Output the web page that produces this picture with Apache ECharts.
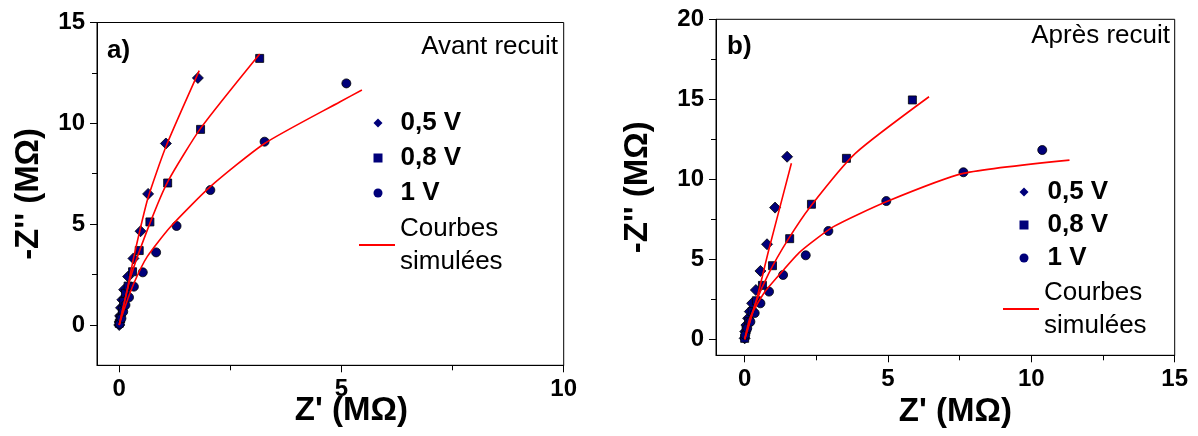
<!DOCTYPE html>
<html>
<head>
<meta charset="utf-8">
<script src="https://cdn.jsdelivr.net/npm/echarts@6/dist/echarts.min.js"></script>
<style>
html,body{margin:0;padding:0;background:#fff;}
#chart{width:1198px;height:436px;}
</style>
</head>
<body>
<div id="chart"></div>
<script>
// ---- Panel a) Avant recuit ----
const a05X = [0, 0.01, 0.02, 0.04, 0.07, 0.11, 0.2, 0.32, 0.48, 0.65, 1.05, 1.77];
const a05Y = [0, 0.15, 0.45, 0.85, 1.25, 1.75, 2.4, 3.3, 4.65, 6.5, 9.0, 12.25];
const a08X = [0, 0.02, 0.07, 0.1, 0.14, 0.2, 0.3, 0.45, 0.69, 1.09, 1.83, 3.16];
const a08Y = [0.08, 0.33, 0.74, 1.16, 1.57, 1.93, 2.64, 3.69, 5.11, 7.04, 9.7, 13.22];
const a1X = [0.01, 0.05, 0.09, 0.14, 0.22, 0.33, 0.53, 0.83, 1.29, 2.05, 3.27, 5.11];
const a1Y = [0.05, 0.33, 0.66, 0.99, 1.37, 1.9, 2.61, 3.6, 4.91, 6.69, 9.09, 11.98];
const aFit05X = [0, 0.18, 0.33, 0.645, 1.05, 1.8];
const aFit05Y = [0, 1.74, 3.39, 6.28, 8.84, 12.61];
const aFit08X = [0, 0.26, 0.69, 1.09, 1.83, 3.16];
const aFit08Y = [0, 2.4, 5.04, 7.1, 9.75, 13.44];
const aFit1X = [0, 0.105, 0.33, 0.63, 1.155, 2.05, 3.27, 4.97, 5.46];
const aFit1Y = [0, 0.74, 2.07, 3.39, 4.87, 6.86, 9.0, 11.07, 11.65];

// ---- Panel b) Après recuit ----
const b05X = [0, 0.02, 0.06, 0.12, 0.18, 0.26, 0.39, 0.55, 0.78, 1.06, 1.48];
const b05Y = [0.06, 0.48, 0.89, 1.31, 1.73, 2.25, 3.08, 4.27, 5.94, 8.23, 11.41];
const b08X = [0, 0.05, 0.14, 0.26, 0.41, 0.62, 0.97, 1.57, 2.33, 3.55, 5.85];
const b08Y = [0.06, 0.58, 1.1, 1.73, 2.41, 3.37, 4.6, 6.29, 8.44, 11.31, 14.96];
const b1X = [0.02, 0.09, 0.2, 0.35, 0.55, 0.85, 1.34, 2.13, 2.92, 4.94, 7.63, 10.38];
const b1Y = [0.27, 0.69, 1.1, 1.64, 2.25, 2.98, 4.02, 5.25, 6.77, 8.64, 10.44, 11.83];
const bFit05X = [0, 0.44, 0.84, 1.63];
const bFit05Y = [0, 2.66, 5.58, 11.0];
const bFit08X = [0, 0.38, 0.84, 1.5, 2.29, 3.86, 6.43];
const bFit08Y = [0, 2.25, 4.12, 6.2, 8.29, 11.62, 15.16];
const bFit1X = [0, 0.2, 0.67, 1.25, 1.94, 3.1, 4.94, 7.63, 11.33];
const bFit1Y = [0, 1.41, 2.88, 4.12, 5.48, 7.04, 8.6, 10.37, 11.2];

// ---- axis ticks / labels ----
const aXMajor = [0, 5, 10], aXMinor = [2.5, 7.5];
const aYMajor = [0, 5, 10, 15], aYMinor = [2.5, 7.5, 12.5];
const bXMajor = [0, 5, 10, 15], bXMinor = [2.5, 7.5, 12.5];
const bYMajor = [0, 5, 10, 15, 20], bYMinor = [2.5, 7.5, 12.5, 17.5];

const legendNames = ['0,5 V', '0,8 V', '1 V', 'Courbes simulées'];
const xTitle = "Z' (MΩ)";
const yTitle = "-Z'' (MΩ)";
const panelLabels = ['a)', 'b)'];
const panelNotes = ['Avant recuit', 'Après recuit'];

const FONT = '"Liberation Sans", Arial, Helvetica, sans-serif';
const pairs = (xs, ys) => xs.map((x, i) => [x, ys[i]]);
const MARK = '#00007a';

function xAxes(grid, min, max, major, minor, nameGap, namePad) {
  return [
    {
      gridIndex: grid, type: 'value', min: min, max: max, position: 'bottom',
      axisLine: { onZero: false, lineStyle: { color: '#000', width: 1 } },
      axisTick: { show: true, customValues: major, length: 7, lineStyle: { color: '#000' } },
      axisLabel: { customValues: major, color: '#000', fontSize: 24, fontWeight: 'bold', fontFamily: FONT, margin: 12 },
      splitLine: { show: false },
      name: xTitle, nameLocation: 'middle', nameGap: nameGap, nameMoveOverlap: false,
      nameTextStyle: { color: '#000', fontSize: 33, fontWeight: 'bold', fontFamily: FONT, padding: namePad }
    },
    {
      gridIndex: grid, type: 'value', min: min, max: max, position: 'bottom',
      axisLine: { show: false, onZero: false },
      axisTick: { show: true, customValues: minor, length: 5, lineStyle: { color: '#000' } },
      axisLabel: { show: false }, splitLine: { show: false }
    }
  ];
}
function yAxes(grid, min, max, major, minor, nameGap) {
  return [
    {
      gridIndex: grid, type: 'value', min: min, max: max, position: 'left',
      axisLine: { onZero: false, lineStyle: { color: '#000', width: 1 } },
      axisTick: { show: true, customValues: major, length: 7, lineStyle: { color: '#000' } },
      axisLabel: { customValues: major, color: '#000', fontSize: 24, fontWeight: 'bold', fontFamily: FONT, margin: 12 },
      splitLine: { show: false },
      name: yTitle, nameLocation: 'middle', nameGap: nameGap, nameRotate: 90, nameMoveOverlap: false,
      nameTextStyle: { color: '#000', fontSize: 33, fontWeight: 'bold', fontFamily: FONT }
    },
    {
      gridIndex: grid, type: 'value', min: min, max: max, position: 'left',
      axisLine: { show: false, onZero: false },
      axisTick: { show: true, customValues: minor, length: 5, lineStyle: { color: '#000' } },
      axisLabel: { show: false }, splitLine: { show: false }
    }
  ];
}

function scatter(name, xi, yi, symbol, size, data) {
  return {
    type: 'scatter', name: name, xAxisIndex: xi, yAxisIndex: yi, symbol: symbol, symbolSize: size,
    data: data, z: 2,
    itemStyle: { color: MARK, borderColor: '#000', borderWidth: 0.8, opacity: 1 }
  };
}
function fit(xi, yi, data) {
  return {
    type: 'line', name: legendNames[3], xAxisIndex: xi, yAxisIndex: yi, data: data,
    showSymbol: false, symbol: 'none', smooth: 0.2, z: 5,
    lineStyle: { color: '#ff0000', width: 1.6 }, itemStyle: { color: '#ff0000' }
  };
}

const textBase = {
  color: '#000', fontSize: 26, fontFamily: FONT, lineHeight: 33,
  rich: {
    b: { fontSize: 26, fontWeight: 'bold', fontFamily: FONT, lineHeight: 33, color: '#000' },
    n: { fontSize: 26, fontFamily: FONT, lineHeight: 33, color: '#000' }
  }
};
function markLegend(left, top, gap, pad) {
  return {
    orient: 'vertical', left: left, top: top, itemGap: gap, itemWidth: 9, itemHeight: 9,
    selectedMode: false, padding: 0,
    data: legendNames.slice(0, 3).map(n => ({ name: n, itemStyle: { borderWidth: 0 } })),
    formatter: name => '{b|' + name + '}',
    textStyle: Object.assign({}, textBase, { padding: [0, 0, 0, pad] })
  };
}
function lineLegend(left, top) {
  return {
    orient: 'vertical', left: left, top: top, itemWidth: 36, itemHeight: 2,
    selectedMode: false, padding: 0,
    data: [{ name: legendNames[3], icon: 'rect', itemStyle: { color: '#ff0000' } }],
    formatter: () => '{n|Courbes}\n{n|simulées}',
    textStyle: textBase
  };
}

const option = {
  backgroundColor: '#fff',
  animation: false,
  grid: [
    { left: 97, top: 22.5, width: 466.7, height: 342.8, show: true, borderColor: '#000', borderWidth: 1,
      backgroundColor: 'transparent', outerBoundsMode: 'none', containLabel: false },
    { left: 716, top: 19.3, width: 458.7, height: 336, show: true, borderColor: '#000', borderWidth: 1,
      backgroundColor: 'transparent', outerBoundsMode: 'none', containLabel: false }
  ],
  xAxis: [].concat(
    xAxes(0, -0.5, 10, aXMajor, aXMinor, 29, [0, 0, 0, 42]),
    xAxes(1, -1, 15, bXMajor, bXMinor, 40, [0, 0, 0, 20])
  ),
  yAxis: [].concat(
    yAxes(0, -2, 15, aYMajor, aYMinor, 52),
    yAxes(1, -1, 20, bYMajor, bYMinor, 62)
  ),
  legend: [
    markLegend(373.5, 106.5, 2, 13),
    lineLegend(359, 212),
    markLegend(1019.5, 175.5, 0, 14),
    lineLegend(1003, 276)
  ],
  graphic: [
    { type: 'text', left: 107, top: 38, style: { text: panelLabels[0], font: 'bold 26px ' + FONT, fill: '#000' } },
    { type: 'text', left: 727, top: 34, style: { text: panelLabels[1], font: 'bold 26px ' + FONT, fill: '#000' } },
    { type: 'text', right: 1198 - 558, top: 34, style: { text: panelNotes[0], font: '26px ' + FONT, fill: '#000' } },
    { type: 'text', right: 1198 - 1170, top: 23, style: { text: panelNotes[1], font: '26px ' + FONT, fill: '#000' } }
  ],
  series: [
    scatter(legendNames[0], 0, 0, 'diamond', 11, pairs(a05X, a05Y)),
    scatter(legendNames[1], 0, 0, 'rect', 8, pairs(a08X, a08Y)),
    scatter(legendNames[2], 0, 0, 'circle', 9, pairs(a1X, a1Y)),
    fit(0, 0, pairs(aFit05X, aFit05Y)),
    fit(0, 0, pairs(aFit08X, aFit08Y)),
    fit(0, 0, pairs(aFit1X, aFit1Y)),
    scatter(legendNames[0], 2, 2, 'diamond', 11, pairs(b05X, b05Y)),
    scatter(legendNames[1], 2, 2, 'rect', 8, pairs(b08X, b08Y)),
    scatter(legendNames[2], 2, 2, 'circle', 9, pairs(b1X, b1Y)),
    fit(2, 2, pairs(bFit05X, bFit05Y)),
    fit(2, 2, pairs(bFit08X, bFit08Y)),
    fit(2, 2, pairs(bFit1X, bFit1Y))
  ]
};

const chart = echarts.init(document.getElementById('chart'), null, { renderer: 'canvas' });
chart.setOption(option);
</script>
</body>
</html>
